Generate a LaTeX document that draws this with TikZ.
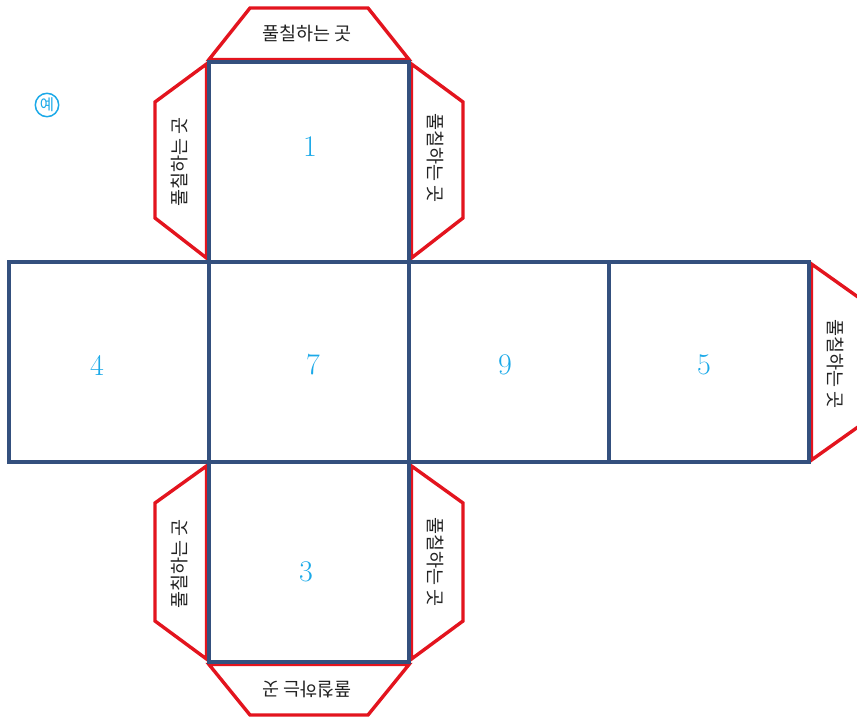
\documentclass[tikz,border=0pt]{standalone}
\usepackage{fontspec}
\newfontfamily\kr{Noto Sans CJK KR}
\definecolor{tabred}{HTML}{E3141E}
\definecolor{netblue}{HTML}{34507E}
\definecolor{numcyan}{HTML}{1BA9E8}
\definecolor{tabtext}{HTML}{222222}
\begin{document}
\begin{tikzpicture}[x=1pt,y=-1pt,
  tab/.style={draw=tabred,line width=3.4pt,line join=miter,fill=white},
  face/.style={draw=netblue,line width=3.1pt},
  num/.style={text=numcyan,font=\fontsize{30}{32}\selectfont,inner sep=0pt},
  tabtxt/.style={text=tabtext,font=\kr\fontsize{18.5}{20}\selectfont,inner sep=0pt}]
\useasboundingbox (0,0) rectangle (857,717);
\clip (0,0) rectangle (857,717);
% tabs
\draw[tab] (209,59.5) -- (250,8) -- (368,8) -- (409,59.5) -- cycle;
\draw[tab] (206.5,64) -- (155,102) -- (155,218) -- (206.5,258) -- cycle;
\draw[tab] (411.5,64) -- (463,102) -- (463,218) -- (411.5,258) -- cycle;
\draw[tab] (206.5,466) -- (155,503) -- (155,621) -- (206.5,659) -- cycle;
\draw[tab] (411.5,466) -- (463,503) -- (463,621) -- (411.5,659) -- cycle;
\draw[tab] (209,664.5) -- (250,715) -- (368,715) -- (409,664.5) -- cycle;
\draw[tab] (811.5,264) -- (865,302) -- (865,422) -- (811.5,460) -- cycle;
% faces
\draw[face] (209,62) rectangle (409,262);
\draw[face] (9,262) rectangle (809,462);
\draw[face] (209,262) -- (209,462);
\draw[face] (409,262) -- (409,462);
\draw[face] (609,262) -- (609,462);
\draw[face] (209,462) rectangle (409,662);
% numbers
\node[num] (n1) at (310,147) {1};
\node[num] (n4) at (97,365) {4};
\node[num] (n7) at (313,365) {7};
\node[num] (n9) at (505,365) {9};
\node[num] (n5) at (704,365) {5};
\node[num] (n3) at (306,572) {3};
% tab texts
\node[tabtxt] (t1) at (307,34) {풀칠하는 곳};
\node[tabtxt,rotate=90] (t2) at (180,162) {풀칠하는 곳};
\node[tabtxt,rotate=-90] (t3) at (435,158) {풀칠하는 곳};
\node[tabtxt,rotate=90] (t4) at (180,564) {풀칠하는 곳};
\node[tabtxt,rotate=-90] (t5) at (435,562) {풀칠하는 곳};
\node[tabtxt,rotate=180] (t6) at (307,689) {풀칠하는 곳};
\node[tabtxt,rotate=-90] (t7) at (835,364) {풀칠하는 곳};
% example mark
\node[circle,draw=numcyan,line width=1.5pt,inner sep=1.2pt,text=numcyan,font=\kr\fontsize{15.5}{16}\selectfont] (ye) at (47,105) {예};
\end{tikzpicture}
\end{document}
